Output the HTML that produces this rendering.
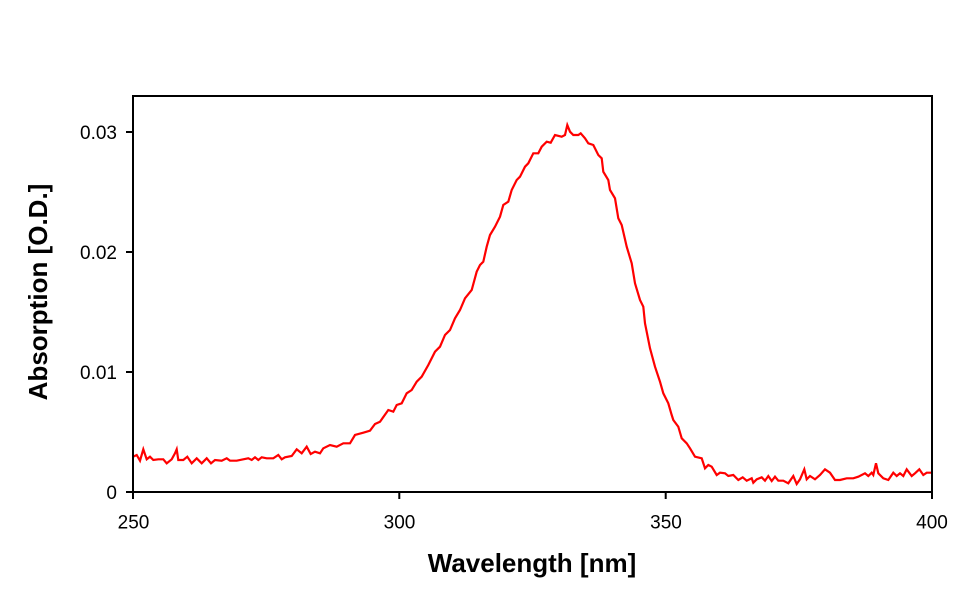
<!DOCTYPE html>
<html>
<head>
<meta charset="utf-8">
<style>
  html, body { margin: 0; padding: 0; background: #ffffff; }
  body { width: 970px; height: 603px; overflow: hidden; }
  svg { display: block; }
  text { font-family: "Liberation Sans", Arial, sans-serif; fill: #000; }
</style>
</head>
<body>
<svg width="970" height="603" viewBox="0 0 970 603" xmlns="http://www.w3.org/2000/svg">
  <rect x="0" y="0" width="970" height="603" fill="#ffffff"/>

  <!-- data curve -->
  <polyline fill="none" stroke="#ff0000" stroke-width="2.2" stroke-linejoin="miter" points="
133,456.7 136.7,455 140,460.7 143.3,449.3 146.7,459.3 150,456.7 153.3,460 158.3,459.3 163.3,459.3 166.7,463.3 171.7,459.3 175,453.3 176.7,449.3 178.3,460 183.3,460 187.3,456.7 191.7,463.3 196.7,458.3 201.7,463.3 206.7,458.3 211,463.3 215,460 221.7,460.7 226.7,458.3 230,460.7 236.7,460.7 243.3,459.3 248.3,458.3 251.7,460 255,457.3 258.3,460 261.7,457.3 266.7,458.3 273.3,458.3 278.3,455 281.7,459.3 285,457.3 291.7,456 296.7,449.3 301.7,453.3 306.7,446.7 310.7,454 315,451.7 320,453.3 323.3,448.3 330,445 336.7,446.7 343.3,443.3 350,443.3 355,435 363.3,432.7 370,430.7 375,424 380,421.7 388.3,410 393.3,411.7 396.7,405 401.7,403.3 406.7,393.3 411.7,390 416.7,381.7 421.7,376.7 428.3,365 435,351.7 440,346.7 445,335 450,330 455,318.3 460,310 465,298.3 471.7,290 476.7,271.7 480,265 483.3,261.7 486.7,246.7 490,235 495,226.7 500,216.7 503.3,205 508.3,201.7 511.7,190 516.7,180 520,176.7 525,166.7 528.3,163.3 533.3,153.3 538.3,153.3 541.7,146.7 546.7,141.7 550.7,142.7 555,135 561.7,136.7 565,135 567.3,125 570,131.7 573.3,135 578.3,135 580.7,133.3 585,138.3 588.3,143.3 593.3,145 598.3,155 601.7,158.3 603.3,171.7 608.3,180 610,190 615,198.3 618.3,218.3 621.7,225 626.7,246.7 631.7,263.3 635,283.3 640,300 643.3,306.7 645,323.3 650,348.3 655,366.7 660,381.7 663.3,393.3 668.3,403.3 671.7,415 673.3,420 678.3,426.7 681.7,438.3 686.7,443.3 690,448.3 695,456.7 701.7,458.3 705,468.3 708.3,465 711.7,466.7 716.7,475 720,472.7 725,473.3 728.3,476 733.3,475 738.3,480 742.7,477.3 746.7,480.7 751.7,478.3 753.3,482.7 756.7,479.3 761.7,477.3 765,480.7 768.3,476 771.7,481 775,476.7 778.3,480.7 783.3,480.7 788.3,483.3 793.3,476 796.7,484 800,479.3 804.3,469.3 806.7,479.3 810,476 815,479.3 820,475 825,469.3 830,472.7 835,480 840,480 846.7,478.3 853.3,478.3 858.3,476.7 865,473.3 868.3,476 871.7,472.7 873.3,475 876,463.3 878.3,473.3 883.3,478.3 888.3,480 893.3,472.7 896.7,476 900,473.3 903.3,476 906.7,469.3 911.7,476 915,473.3 919.3,469.3 923.3,475 926.7,472.7 932,472.7"/>

  <!-- plot frame -->
  <rect x="133" y="96" width="799" height="396" fill="none" stroke="#000" stroke-width="2"/>

  <!-- ticks -->
  <g stroke="#000" stroke-width="2">
    <line x1="126" y1="492" x2="133" y2="492"/>
    <line x1="126" y1="372" x2="133" y2="372"/>
    <line x1="126" y1="252" x2="133" y2="252"/>
    <line x1="126" y1="132" x2="133" y2="132"/>
    <line x1="133" y1="492" x2="133" y2="499"/>
    <line x1="399.3" y1="492" x2="399.3" y2="499"/>
    <line x1="665.7" y1="492" x2="665.7" y2="499"/>
    <line x1="932" y1="492" x2="932" y2="499"/>
  </g>

  <!-- y tick labels -->
  <g font-size="19" text-anchor="end">
    <text x="117" y="498.8">0</text>
    <text x="117" y="378.8">0.01</text>
    <text x="117" y="258.8">0.02</text>
    <text x="117" y="138.8">0.03</text>
  </g>

  <!-- x tick labels -->
  <g font-size="19" text-anchor="middle">
    <text x="133.5" y="528.5">250</text>
    <text x="399.5" y="528.5">300</text>
    <text x="666" y="528.5">350</text>
    <text x="932" y="528.5">400</text>
  </g>

  <!-- axis titles -->
  <text x="532" y="572" font-size="26" font-weight="bold" text-anchor="middle">Wavelength [nm]</text>
  <text transform="translate(47,292) rotate(-90)" x="0" y="0" font-size="26" font-weight="bold" text-anchor="middle">Absorption [O.D.]</text>
</svg>
</body>
</html>
